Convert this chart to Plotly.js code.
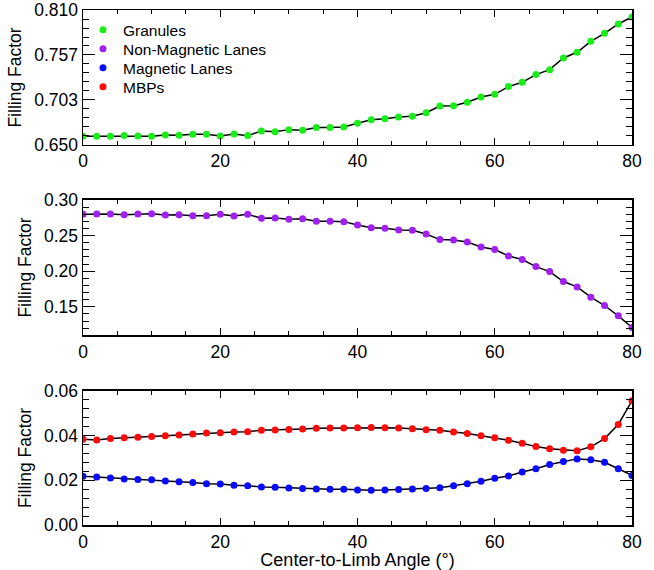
<!DOCTYPE html>
<html>
<head>
<meta charset="utf-8">
<script src="https://cdn.plot.ly/plotly-3.0.1.min.js"></script>
<style>
html, body { margin: 0; padding: 0; background: #fff; }
#chart { width: 654px; height: 570px; }
</style>
</head>
<body>
<div id="chart"></div>
<script>
// Center-to-limb angle (degrees)
const angle = [0,2,4,6,8,10,12,14,16,18,20,22,24,26,28,30,32,34,36,38,40,
               42,44,46,48,50,52,54,56,58,60,62,64,66,68,70,72,74,76,78,80];

const granules = [0.6603,0.6603,0.6603,0.6611,0.6607,0.6603,0.6619,0.6615,0.6627,0.6627,
                  0.6607,0.6631,0.6611,0.6666,0.6658,0.6682,0.6674,0.6706,0.6706,0.6713,
                  0.6757,0.6800,0.6812,0.6832,0.6840,0.6883,0.6962,0.6966,0.7006,0.7069,
                  0.7101,0.7192,0.7243,0.7334,0.7393,0.7531,0.7599,0.7729,0.7824,0.7934,0.8017];

const nonMagLanes = [0.2799,0.2804,0.2804,0.2794,0.2804,0.2808,0.2790,0.2794,0.2780,0.2780,
                     0.2799,0.2776,0.2799,0.2743,0.2748,0.2729,0.2738,0.2701,0.2701,0.2696,
                     0.2650,0.2612,0.2603,0.2579,0.2575,0.2523,0.2444,0.2439,0.2411,0.2341,
                     0.2304,0.2215,0.2164,0.2065,0.1995,0.1855,0.1780,0.1636,0.1519,0.1374,0.1210];

const magLanes = [0.0218,0.0215,0.0210,0.0206,0.0204,0.0203,0.0197,0.0194,0.0190,0.0185,
                  0.0184,0.0178,0.0176,0.0170,0.0169,0.0166,0.0164,0.0161,0.0160,0.0160,
                  0.0157,0.0156,0.0157,0.0159,0.0161,0.0164,0.0167,0.0176,0.0185,0.0196,
                  0.0209,0.0219,0.0237,0.0252,0.0271,0.0284,0.0296,0.0292,0.0281,0.0252,0.0222];

const mbps = [0.0384,0.0381,0.0387,0.0391,0.0393,0.0396,0.0400,0.0403,0.0407,0.0412,
              0.0413,0.0416,0.0418,0.0424,0.0425,0.0428,0.0430,0.0433,0.0434,0.0434,
              0.0436,0.0437,0.0436,0.0434,0.0431,0.0427,0.0424,0.0416,0.0410,0.0400,
              0.0391,0.0379,0.0366,0.0351,0.0341,0.0335,0.0332,0.0350,0.0387,0.0450,0.0556];

const seriesNames = ['Granules', 'Non-Magnetic Lanes', 'Magnetic Lanes', 'MBPs'];
const seriesColors = ['#1aee1a', '#a020f0', '#0a0aff', '#ff0a0a'];

const xTickVals = [0, 20, 40, 60, 80];
const topTickVals = [0.650, 0.70333, 0.75667, 0.810];
const topTickText = ['0.650', '0.703', '0.757', '0.810'];
const midTickVals = [0.15, 0.20, 0.25, 0.30];
const midTickText = ['0.15', '0.20', '0.25', '0.30'];
const botTickVals = [0, 0.02, 0.04, 0.06];
const botTickText = ['0.00', '0.02', '0.04', '0.06'];

const FONT = 'Liberation Sans, Arial, Helvetica, sans-serif';
const legendIds = ['legend', 'legend2', 'legend3', 'legend4'];

function lineTrace(y, ax) {
  return { x: angle, y: y, xaxis: ax[0], yaxis: ax[1], mode: 'lines',
           line: { color: '#000', width: 1.5 }, showlegend: false, hoverinfo: 'skip' };
}
function dotTrace(y, ax, i) {
  return { x: angle, y: y, xaxis: ax[0], yaxis: ax[1], mode: 'markers', name: seriesNames[i],
           marker: { color: seriesColors[i], size: 7 }, showlegend: true, legend: legendIds[i] };
}

const A1 = ['x', 'y'], A2 = ['x2', 'y2'], A3 = ['x3', 'y3'];
const data = [
  lineTrace(granules, A1), dotTrace(granules, A1, 0),
  lineTrace(nonMagLanes, A2), dotTrace(nonMagLanes, A2, 1),
  lineTrace(magLanes, A3), dotTrace(magLanes, A3, 2),
  lineTrace(mbps, A3), dotTrace(mbps, A3, 3)
];

function xAxis(anchor, withTitle) {
  const a = {
    anchor: anchor, range: [0, 80], tickvals: xTickVals,
    ticks: 'inside', ticklen: 7, tickwidth: 1, tickcolor: '#000',
    showline: true, linecolor: '#000', linewidth: 1.5, mirror: 'ticks',
    showgrid: false, zeroline: false,
    tickfont: { family: FONT, size: 17.5, color: '#000' },
    minor: { dtick: 5, tick0: 0, ticks: 'inside', ticklen: 4, tickcolor: '#000', tickwidth: 1, showgrid: false }
  };
  if (withTitle) a.title = { text: 'Center-to-Limb Angle (°)', font: { family: FONT, size: 18, color: '#000' }, standoff: 6 };
  return a;
}
function yAxis(anchor, domain, range, tv, tt, minorStep, minorStart) {
  return {
    anchor: anchor, domain: domain, range: range, tickvals: tv, ticktext: tt,
    ticks: 'inside', ticklen: 12, tickwidth: 1, tickcolor: '#000',
    showline: true, linecolor: '#000', linewidth: 1.5, mirror: 'ticks',
    showgrid: false, zeroline: false,
    tickfont: { family: FONT, size: 17.5, color: '#000' },
    title: { text: 'Filling Factor', font: { family: FONT, size: 17.5, color: '#000' }, standoff: 8 },
    minor: { dtick: minorStep, tick0: minorStart, ticks: 'inside', ticklen: 6, tickcolor: '#000', tickwidth: 1, showgrid: false }
  };
}

function legendAt(yFrac) {
  return { x: 0.0, y: yFrac, xanchor: 'left', yanchor: 'middle', bgcolor: 'rgba(0,0,0,0)',
           borderwidth: 0, font: { family: FONT, size: 15.5, color: '#000' }, itemwidth: 30 };
}

const layout = {
  width: 654, height: 570,
  margin: { l: 83, r: 22, t: 10, b: 45, pad: 0 },
  paper_bgcolor: '#fff', plot_bgcolor: '#fff',
  showlegend: true,
  legend: legendAt(0.9610),
  legend2: legendAt(0.9240),
  legend3: legendAt(0.8870),
  legend4: legendAt(0.8500),
  xaxis: xAxis('y', false),
  xaxis2: xAxis('y2', false),
  xaxis3: xAxis('y3', true),
  yaxis: yAxis('x', [0.7379, 1], [0.650, 0.810], topTickVals, topTickText, 0.0106667, 0.650),
  yaxis2: yAxis('x2', [0.3689, 0.6311], [0.1105, 0.30], midTickVals, midTickText, 0.01, 0),
  yaxis3: yAxis('x3', [0, 0.2602], [0, 0.06], botTickVals, botTickText, 0.004, 0)
};

Plotly.newPlot('chart', data, layout, { displayModeBar: false, staticPlot: true });
</script>
</body>
</html>
